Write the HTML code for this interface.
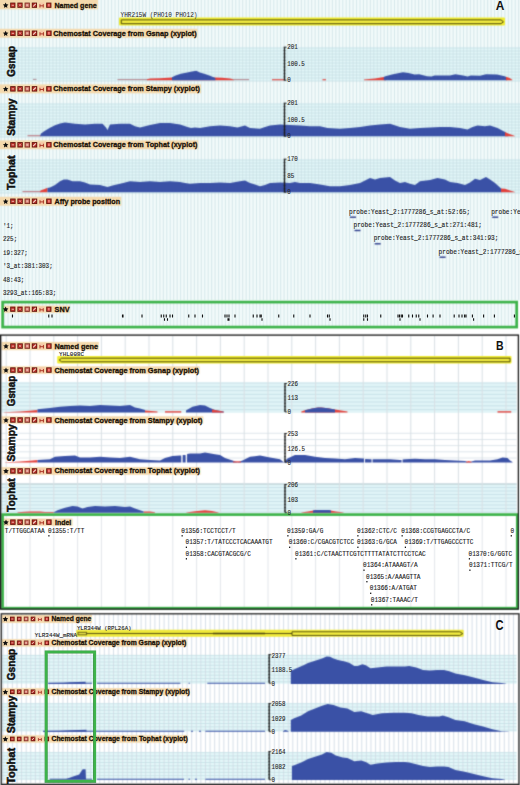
<!DOCTYPE html>
<html><head><meta charset="utf-8"><style>
html,body{margin:0;padding:0;background:#fff;width:520px;height:785px;overflow:hidden}
svg{display:block}

</style></head><body><svg xmlns="http://www.w3.org/2000/svg" width="520" height="785" viewBox="0 0 520 785"><defs><filter id="soft" x="0" y="0" width="520" height="785" filterUnits="userSpaceOnUse" color-interpolation-filters="sRGB"><feConvolveMatrix order="3" kernelMatrix="1 4 1 4 16 4 1 4 1" divisor="36" edgeMode="duplicate" preserveAlpha="true"/></filter></defs><g filter="url(#soft)"><rect width="520" height="785" fill="#fff"/><rect x="0" y="0" width="520" height="301" fill="#f3fbfb"/><rect x="0" y="47.50" width="520" height="33.50" fill="#e3f7f9"/><rect x="0" y="103.50" width="520" height="33.50" fill="#e3f7f9"/><rect x="0" y="159.50" width="520" height="33.50" fill="#e3f7f9"/><path d="M1.20 0.00V300.00M4.65 0.00V300.00M8.10 0.00V300.00M11.55 0.00V300.00M15.00 0.00V300.00M18.45 0.00V300.00M21.90 0.00V300.00M25.35 0.00V300.00M28.80 0.00V300.00M32.25 0.00V300.00M35.70 0.00V300.00M39.15 0.00V300.00M42.60 0.00V300.00M46.05 0.00V300.00M49.50 0.00V300.00M52.95 0.00V300.00M56.40 0.00V300.00M59.85 0.00V300.00M63.30 0.00V300.00M66.75 0.00V300.00M70.20 0.00V300.00M73.65 0.00V300.00M77.10 0.00V300.00M80.55 0.00V300.00M84.00 0.00V300.00M87.45 0.00V300.00M90.90 0.00V300.00M94.35 0.00V300.00M97.80 0.00V300.00M101.25 0.00V300.00M104.70 0.00V300.00M108.15 0.00V300.00M111.60 0.00V300.00M115.05 0.00V300.00M118.50 0.00V300.00M121.95 0.00V300.00M125.40 0.00V300.00M128.85 0.00V300.00M132.30 0.00V300.00M135.75 0.00V300.00M139.20 0.00V300.00M142.65 0.00V300.00M146.10 0.00V300.00M149.55 0.00V300.00M153.00 0.00V300.00M156.45 0.00V300.00M159.90 0.00V300.00M163.35 0.00V300.00M166.80 0.00V300.00M170.25 0.00V300.00M173.70 0.00V300.00M177.15 0.00V300.00M180.60 0.00V300.00M184.05 0.00V300.00M187.50 0.00V300.00M190.95 0.00V300.00M194.40 0.00V300.00M197.85 0.00V300.00M201.30 0.00V300.00M204.75 0.00V300.00M208.20 0.00V300.00M211.65 0.00V300.00M215.10 0.00V300.00M218.55 0.00V300.00M222.00 0.00V300.00M225.45 0.00V300.00M228.90 0.00V300.00M232.35 0.00V300.00M235.80 0.00V300.00M239.25 0.00V300.00M242.70 0.00V300.00M246.15 0.00V300.00M249.60 0.00V300.00M253.05 0.00V300.00M256.50 0.00V300.00M259.95 0.00V300.00M263.40 0.00V300.00M266.85 0.00V300.00M270.30 0.00V300.00M273.75 0.00V300.00M277.20 0.00V300.00M280.65 0.00V300.00M284.10 0.00V300.00M287.55 0.00V300.00M291.00 0.00V300.00M294.45 0.00V300.00M297.90 0.00V300.00M301.35 0.00V300.00M304.80 0.00V300.00M308.25 0.00V300.00M311.70 0.00V300.00M315.15 0.00V300.00M318.60 0.00V300.00M322.05 0.00V300.00M325.50 0.00V300.00M328.95 0.00V300.00M332.40 0.00V300.00M335.85 0.00V300.00M339.30 0.00V300.00M342.75 0.00V300.00M346.20 0.00V300.00M349.65 0.00V300.00M353.10 0.00V300.00M356.55 0.00V300.00M360.00 0.00V300.00M363.45 0.00V300.00M366.90 0.00V300.00M370.35 0.00V300.00M373.80 0.00V300.00M377.25 0.00V300.00M380.70 0.00V300.00M384.15 0.00V300.00M387.60 0.00V300.00M391.05 0.00V300.00M394.50 0.00V300.00M397.95 0.00V300.00M401.40 0.00V300.00M404.85 0.00V300.00M408.30 0.00V300.00M411.75 0.00V300.00M415.20 0.00V300.00M418.65 0.00V300.00M422.10 0.00V300.00M425.55 0.00V300.00M429.00 0.00V300.00M432.45 0.00V300.00M435.90 0.00V300.00M439.35 0.00V300.00M442.80 0.00V300.00M446.25 0.00V300.00M449.70 0.00V300.00M453.15 0.00V300.00M456.60 0.00V300.00M460.05 0.00V300.00M463.50 0.00V300.00M466.95 0.00V300.00M470.40 0.00V300.00M473.85 0.00V300.00M477.30 0.00V300.00M480.75 0.00V300.00M484.20 0.00V300.00M487.65 0.00V300.00M491.10 0.00V300.00M494.55 0.00V300.00M498.00 0.00V300.00M501.45 0.00V300.00M504.90 0.00V300.00M508.35 0.00V300.00M511.80 0.00V300.00M515.25 0.00V300.00M518.70 0.00V300.00" stroke="#cfe3e7" stroke-width="0.9" fill="none"/><path d="M0.00 48.00H520.00M0.00 51.00H520.00M0.00 54.00H520.00M0.00 57.00H520.00M0.00 60.00H520.00M0.00 63.00H520.00M0.00 66.00H520.00M0.00 69.00H520.00M0.00 72.00H520.00M0.00 75.00H520.00M0.00 78.00H520.00M0.00 81.00H520.00" stroke="#c4dee4" stroke-width="0.8" fill="none"/><path d="M0.00 104.00H520.00M0.00 107.00H520.00M0.00 110.00H520.00M0.00 113.00H520.00M0.00 116.00H520.00M0.00 119.00H520.00M0.00 122.00H520.00M0.00 125.00H520.00M0.00 128.00H520.00M0.00 131.00H520.00M0.00 134.00H520.00M0.00 137.00H520.00" stroke="#c4dee4" stroke-width="0.8" fill="none"/><path d="M0.00 160.00H520.00M0.00 163.00H520.00M0.00 166.00H520.00M0.00 169.00H520.00M0.00 172.00H520.00M0.00 175.00H520.00M0.00 178.00H520.00M0.00 181.00H520.00M0.00 184.00H520.00M0.00 187.00H520.00M0.00 190.00H520.00M0.00 193.00H520.00" stroke="#c4dee4" stroke-width="0.8" fill="none"/><rect x="0.00" y="0.00" width="98.00" height="9.30" fill="#f4d9ad"/><rect x="119" y="17.4" width="386" height="8.2" rx="1" fill="#f0ec30"/><path d="M121.3 19.9H501L503.4 21.8L501 23.7H121.3Z" fill="#f4ee40" stroke="#3c3808" stroke-width="0.9"/><rect x="0.00" y="28.80" width="197.50" height="8.90" fill="#f4d9ad"/><path d="M117.5 79.6H148" stroke="#b68a92" stroke-width="1.1"/><path d="M147.00 80.30L147.00 79.20L150.00 78.60L160.00 78.20L172.00 77.60L215.00 77.60L222.00 77.80L230.00 78.60L234.00 79.40L234.00 80.30Z" fill="#e2403b"/><path d="M172.00 80.30L172.00 79.60L172.00 77.20L175.60 75.50L180.80 73.80L186.00 72.70L192.00 71.50L196.30 70.70L199.80 72.40L205.00 74.10L210.00 75.80L215.40 77.90L215.40 79.60L215.40 80.30Z" fill="#3a51a6"/><path d="M233 79.6H249" stroke="#b68a92" stroke-width="1.1"/><path d="M33 79.4H36.5" stroke="#b08890" stroke-width="1"/><path d="M272.00 80.30L272.00 79.20L285.00 79.20L285.00 80.30Z" fill="#e2403b"/><path d="M322.50 80.30L322.50 79.20L326.00 79.20L326.00 80.30Z" fill="#e2403b"/><path d="M364.00 80.30L364.00 79.40L375.00 78.60L383.80 77.00L386.00 77.00L386.00 80.30Z" fill="#e2403b"/><path d="M383.80 80.30L383.80 77.00L385.40 76.20L393.00 74.20L403.00 72.30L408.50 73.00L414.60 74.60L419.20 74.20L427.00 76.20L431.50 76.60L434.60 75.40L440.00 75.40L450.00 75.40L455.40 74.20L463.00 75.40L467.70 76.60L470.80 75.40L480.00 75.80L486.00 74.20L497.00 74.60L504.60 76.20L507.00 77.20L507.00 80.30Z" fill="#3a51a6"/><path d="M506.00 80.30L506.00 76.80L509.00 77.70L512.30 79.70L512.30 80.30Z" fill="#e2403b"/><path d="M284.50 47.20V80.20" stroke="#1a1a1a" stroke-width="1.3"/><path d="M283.60 47.20H285.40M283.60 50.50H285.40M283.60 53.80H285.40M283.60 57.10H285.40M283.60 60.40H285.40M283.60 63.70H285.40M283.60 67.00H285.40M283.60 70.30H285.40M283.60 73.60H285.40M283.60 76.90H285.40M283.60 80.20H285.40" stroke="#1a1a1a" stroke-width="0.7"/><path d="M284.50 47.20H286.50M284.50 80.20H286.50" stroke="#1a1a1a" stroke-width="0.9"/><rect x="0.00" y="84.40" width="201.00" height="8.90" fill="#f4d9ad"/><path d="M27.5 135.7H41" stroke="#c0808a" stroke-width="1.2"/><path d="M40.00 136.30L40.00 136.20L41.00 133.50L45.00 130.80L50.00 127.80L55.00 125.20L60.00 123.60L65.00 122.60L75.00 123.75L85.00 124.50L95.00 123.75L102.50 123.75L106.00 127.50L107.50 130.00L110.00 124.50L120.00 123.75L130.00 123.75L135.00 126.25L140.00 127.50L150.00 125.00L160.00 123.00L170.00 123.00L180.00 124.50L187.50 127.00L191.00 128.00L195.00 127.50L200.00 128.00L210.00 126.25L220.00 125.50L230.00 126.25L237.50 127.50L245.00 125.50L250.00 128.00L260.00 128.75L265.00 127.00L270.00 125.50L280.00 124.50L290.00 125.00L300.00 125.50L310.00 126.25L320.00 126.25L327.50 128.00L340.00 128.75L350.00 128.00L360.00 127.00L370.00 125.50L380.00 124.50L390.00 123.75L400.00 127.00L410.00 128.75L420.00 128.00L430.00 127.50L440.00 127.00L450.00 127.00L460.00 128.00L467.50 129.50L472.50 127.00L477.50 125.50L485.00 126.25L490.00 125.50L497.50 128.00L505.00 132.00L508.00 134.00L508.00 136.30Z" fill="#3a51a6"/><path d="M505.00 136.30L505.00 132.00L508.00 133.50L515.00 136.00L515.00 136.30Z" fill="#e2403b"/><path d="M284.50 103.20V136.20" stroke="#1a1a1a" stroke-width="1.3"/><path d="M283.60 103.20H285.40M283.60 106.50H285.40M283.60 109.80H285.40M283.60 113.10H285.40M283.60 116.40H285.40M283.60 119.70H285.40M283.60 123.00H285.40M283.60 126.30H285.40M283.60 129.60H285.40M283.60 132.90H285.40M283.60 136.20H285.40" stroke="#1a1a1a" stroke-width="0.7"/><path d="M284.50 103.20H286.50M284.50 136.20H286.50" stroke="#1a1a1a" stroke-width="0.9"/><rect x="0.00" y="140.40" width="198.30" height="8.80" fill="#f4d9ad"/><path d="M22.5 191.6H41" stroke="#c0808a" stroke-width="1.2"/><path d="M40.00 192.30L40.00 192.20L40.50 190.50L44.00 189.20L47.50 187.80L47.50 192.30Z" fill="#e2403b"/><path d="M47.50 192.30L47.50 188.00L50.00 187.50L55.00 185.00L60.00 181.25L63.75 179.50L67.50 179.50L72.50 181.25L80.00 181.25L85.00 182.50L90.00 184.50L100.00 185.00L107.50 187.00L112.50 185.50L120.00 183.75L130.00 181.25L140.00 182.00L150.00 181.25L160.00 182.00L170.00 181.25L180.00 182.00L185.00 183.00L190.00 183.75L200.00 183.00L210.00 183.00L220.00 182.50L230.00 183.00L240.00 181.25L245.00 180.50L250.00 183.00L255.00 184.50L260.00 186.25L265.00 185.00L270.00 183.00L280.00 182.50L290.00 183.00L295.00 182.00L300.00 183.00L310.00 183.00L320.00 184.50L330.00 186.25L340.00 186.25L350.00 185.00L360.00 183.00L365.00 180.50L370.00 178.00L375.00 179.50L380.00 178.00L390.00 177.00L395.00 180.50L400.00 183.00L405.00 182.00L410.00 183.75L415.00 185.00L420.00 181.25L430.00 180.00L437.50 178.00L445.00 179.50L450.00 182.00L457.50 183.00L465.00 185.00L470.00 182.50L475.00 178.75L480.00 180.00L486.00 177.00L490.00 179.50L495.00 183.00L500.00 187.50L501.50 189.00L501.50 192.30Z" fill="#3a51a6"/><path d="M501.00 192.30L501.00 188.50L505.00 188.75L510.00 190.50L515.00 192.00L515.00 192.30Z" fill="#e2403b"/><path d="M284.50 159.20V192.20" stroke="#1a1a1a" stroke-width="1.3"/><path d="M283.60 159.20H285.40M283.60 162.50H285.40M283.60 165.80H285.40M283.60 169.10H285.40M283.60 172.40H285.40M283.60 175.70H285.40M283.60 179.00H285.40M283.60 182.30H285.40M283.60 185.60H285.40M283.60 188.90H285.40M283.60 192.20H285.40" stroke="#1a1a1a" stroke-width="0.7"/><path d="M284.50 159.20H286.50M284.50 192.20H286.50" stroke="#1a1a1a" stroke-width="0.9"/><rect x="0.00" y="196.80" width="121.30" height="8.90" fill="#f4d9ad"/><rect x="350.00" y="216.50" width="6" height="1.4" fill="#2a3a8a"/><rect x="354.50" y="229.80" width="6" height="1.4" fill="#2a3a8a"/><rect x="374.70" y="243.10" width="6" height="1.4" fill="#2a3a8a"/><rect x="439.60" y="256.50" width="6" height="1.4" fill="#2a3a8a"/><rect x="492.20" y="216.50" width="6" height="1.4" fill="#2a3a8a"/><rect x="2.5" y="302.1" width="514.1" height="25" fill="#fff"/><rect x="2.5" y="302.1" width="514.1" height="25" fill="#f3fbfb"/><path d="M4.65 302.00V326.00M8.10 302.00V326.00M11.55 302.00V326.00M15.00 302.00V326.00M18.45 302.00V326.00M21.90 302.00V326.00M25.35 302.00V326.00M28.80 302.00V326.00M32.25 302.00V326.00M35.70 302.00V326.00M39.15 302.00V326.00M42.60 302.00V326.00M46.05 302.00V326.00M49.50 302.00V326.00M52.95 302.00V326.00M56.40 302.00V326.00M59.85 302.00V326.00M63.30 302.00V326.00M66.75 302.00V326.00M70.20 302.00V326.00M73.65 302.00V326.00M77.10 302.00V326.00M80.55 302.00V326.00M84.00 302.00V326.00M87.45 302.00V326.00M90.90 302.00V326.00M94.35 302.00V326.00M97.80 302.00V326.00M101.25 302.00V326.00M104.70 302.00V326.00M108.15 302.00V326.00M111.60 302.00V326.00M115.05 302.00V326.00M118.50 302.00V326.00M121.95 302.00V326.00M125.40 302.00V326.00M128.85 302.00V326.00M132.30 302.00V326.00M135.75 302.00V326.00M139.20 302.00V326.00M142.65 302.00V326.00M146.10 302.00V326.00M149.55 302.00V326.00M153.00 302.00V326.00M156.45 302.00V326.00M159.90 302.00V326.00M163.35 302.00V326.00M166.80 302.00V326.00M170.25 302.00V326.00M173.70 302.00V326.00M177.15 302.00V326.00M180.60 302.00V326.00M184.05 302.00V326.00M187.50 302.00V326.00M190.95 302.00V326.00M194.40 302.00V326.00M197.85 302.00V326.00M201.30 302.00V326.00M204.75 302.00V326.00M208.20 302.00V326.00M211.65 302.00V326.00M215.10 302.00V326.00M218.55 302.00V326.00M222.00 302.00V326.00M225.45 302.00V326.00M228.90 302.00V326.00M232.35 302.00V326.00M235.80 302.00V326.00M239.25 302.00V326.00M242.70 302.00V326.00M246.15 302.00V326.00M249.60 302.00V326.00M253.05 302.00V326.00M256.50 302.00V326.00M259.95 302.00V326.00M263.40 302.00V326.00M266.85 302.00V326.00M270.30 302.00V326.00M273.75 302.00V326.00M277.20 302.00V326.00M280.65 302.00V326.00M284.10 302.00V326.00M287.55 302.00V326.00M291.00 302.00V326.00M294.45 302.00V326.00M297.90 302.00V326.00M301.35 302.00V326.00M304.80 302.00V326.00M308.25 302.00V326.00M311.70 302.00V326.00M315.15 302.00V326.00M318.60 302.00V326.00M322.05 302.00V326.00M325.50 302.00V326.00M328.95 302.00V326.00M332.40 302.00V326.00M335.85 302.00V326.00M339.30 302.00V326.00M342.75 302.00V326.00M346.20 302.00V326.00M349.65 302.00V326.00M353.10 302.00V326.00M356.55 302.00V326.00M360.00 302.00V326.00M363.45 302.00V326.00M366.90 302.00V326.00M370.35 302.00V326.00M373.80 302.00V326.00M377.25 302.00V326.00M380.70 302.00V326.00M384.15 302.00V326.00M387.60 302.00V326.00M391.05 302.00V326.00M394.50 302.00V326.00M397.95 302.00V326.00M401.40 302.00V326.00M404.85 302.00V326.00M408.30 302.00V326.00M411.75 302.00V326.00M415.20 302.00V326.00M418.65 302.00V326.00M422.10 302.00V326.00M425.55 302.00V326.00M429.00 302.00V326.00M432.45 302.00V326.00M435.90 302.00V326.00M439.35 302.00V326.00M442.80 302.00V326.00M446.25 302.00V326.00M449.70 302.00V326.00M453.15 302.00V326.00M456.60 302.00V326.00M460.05 302.00V326.00M463.50 302.00V326.00M466.95 302.00V326.00M470.40 302.00V326.00M473.85 302.00V326.00M477.30 302.00V326.00M480.75 302.00V326.00M484.20 302.00V326.00M487.65 302.00V326.00M491.10 302.00V326.00M494.55 302.00V326.00M498.00 302.00V326.00M501.45 302.00V326.00M504.90 302.00V326.00M508.35 302.00V326.00M511.80 302.00V326.00M515.25 302.00V326.00" stroke="#d2e5e8" stroke-width="0.9" fill="none"/><rect x="3.50" y="305.60" width="66.50" height="7.20" fill="#f4d9ad"/><rect x="2.6" y="302.1" width="514.1" height="25" fill="none" stroke="#3db34a" stroke-width="2.7"/><rect x="1.5" y="382.5" width="515" height="30.3" fill="#e0f4f7"/><path d="M1.50 383.00H516.50M1.50 386.80H516.50M1.50 390.60H516.50M1.50 394.40H516.50M1.50 398.20H516.50M1.50 402.00H516.50M1.50 405.80H516.50M1.50 409.60H516.50" stroke="#c3dde4" stroke-width="0.8" fill="none"/><path d="M1.50 433.30H516.50M1.50 439.50H516.50M1.50 445.60H516.50M1.50 451.80H516.50M1.50 458.00H516.50" stroke="#d6e0e6" stroke-width="0.8" fill="none"/><rect x="1.5" y="483.8" width="515" height="29" fill="#e0f4f7"/><path d="M1.50 484.00H516.50M1.50 487.50H516.50M1.50 491.00H516.50M1.50 494.50H516.50M1.50 498.00H516.50M1.50 501.50H516.50M1.50 505.00H516.50M1.50 508.50H516.50M1.50 512.00H516.50" stroke="#c3dde4" stroke-width="0.8" fill="none"/><path d="M1.5 484H516.5" stroke="#b8c8cc" stroke-width="0.8"/><path d="M6.20 336.00V513.00M30.00 336.00V513.00M53.80 336.00V513.00M77.60 336.00V513.00M101.40 336.00V513.00M125.20 336.00V513.00M149.00 336.00V513.00M172.80 336.00V513.00M196.60 336.00V513.00M220.40 336.00V513.00M244.20 336.00V513.00M268.00 336.00V513.00M291.80 336.00V513.00M315.60 336.00V513.00M339.40 336.00V513.00M363.20 336.00V513.00M387.00 336.00V513.00M410.80 336.00V513.00M434.60 336.00V513.00M458.40 336.00V513.00M482.20 336.00V513.00M506.00 336.00V513.00" stroke="#d8dfe4" stroke-width="1.0" fill="none"/><rect x="1.50" y="341.90" width="97.30" height="8.30" fill="#f4d9ad"/><rect x="57.2" y="356.1" width="454.3" height="7.4" rx="1" fill="#f0ec30"/><path d="M59.2 360.0L61.6 358.2H510V361.8H61.6Z" fill="#f4ee40" stroke="#3c3808" stroke-width="0.9"/><rect x="1.50" y="366.30" width="198.10" height="7.50" fill="#f4d9ad"/><path d="M3.75 412.60L3.75 412.20L20.00 411.60L30.00 410.80L37.50 410.00L37.50 412.60Z" fill="#e2403b"/><path d="M37.50 412.60L37.50 409.25L50.00 408.00L60.00 406.75L70.00 406.00L80.00 405.50L90.00 406.00L100.00 405.00L110.00 405.50L120.00 406.00L130.00 405.00L135.00 407.50L140.00 408.50L145.00 410.00L145.00 412.60Z" fill="#3a51a6"/><path d="M145.00 412.60L145.00 410.50L157.50 411.50L157.50 412.60Z" fill="#e2403b"/><path d="M165.00 412.60L165.00 411.20L181.25 411.20L181.25 412.60Z" fill="#e2403b"/><path d="M186.00 412.60L186.00 410.50L188.00 409.25L192.50 406.75L200.00 405.00L205.00 405.50L210.00 408.00L215.00 410.00L223.75 411.50L223.75 412.60Z" fill="#3a51a6"/><path d="M212.00 412.60L212.00 409.50L215.00 410.00L223.75 411.70L223.75 412.60Z" fill="#e2403b"/><path d="M301.25 412.60L301.25 411.60L305.00 410.20L312.00 408.60L318.00 407.60L321.25 407.40L328.00 408.20L335.00 409.60L341.00 410.60L347.50 411.60L347.50 412.60Z" fill="#e2403b"/><path d="M305.00 412.60L305.00 410.20L312.00 408.60L318.00 407.60L321.25 407.40L328.00 408.20L335.00 409.60L335.00 412.60Z" fill="#3a51a6"/><path d="M497.50 412.60L497.50 411.20L511.25 411.20L511.25 412.60Z" fill="#e2403b"/><path d="M285.00 383.50V411.90" stroke="#1a1a1a" stroke-width="1.3"/><path d="M284.10 383.50H285.90M284.10 386.80H285.90M284.10 390.10H285.90M284.10 393.40H285.90M284.10 396.70H285.90M284.10 400.00H285.90M284.10 403.30H285.90M284.10 406.60H285.90M284.10 409.90H285.90" stroke="#1a1a1a" stroke-width="0.7"/><path d="M285.00 383.50H287.00M285.00 411.90H287.00" stroke="#1a1a1a" stroke-width="0.9"/><rect x="1.50" y="416.30" width="201.80" height="7.40" fill="#f4d9ad"/><path d="M5.00 462.60L5.00 462.20L20.00 461.60L30.00 460.80L37.50 460.00L37.50 462.60Z" fill="#e2403b"/><path d="M37.50 462.60L37.50 460.00L50.00 459.25L55.00 456.75L65.00 456.00L75.00 455.50L80.00 457.50L90.00 457.50L100.00 456.75L110.00 457.50L120.00 458.00L130.00 456.75L140.00 459.25L150.00 460.00L160.00 460.50L165.00 458.00L172.50 456.00L180.00 455.50L181.20 455.50L181.30 462.60L182.60 462.60L182.70 455.00L185.60 455.00L185.70 462.60L187.00 462.60L187.10 454.00L190.00 453.50L200.00 453.50L205.00 452.50L215.00 454.25L220.00 455.00L225.00 458.00L232.50 460.50L237.50 462.30L242.50 460.50L250.00 456.75L260.00 455.50L270.00 457.50L280.00 459.25L283.75 462.30L287.50 458.50L295.00 455.00L305.00 455.00L315.00 456.75L325.00 458.00L335.00 458.50L345.00 459.25L355.00 458.00L362.50 458.50L364.00 458.50L364.10 462.60L365.00 462.60L365.10 459.00L370.00 459.25L371.50 459.25L371.60 462.60L372.50 462.60L372.60 459.25L380.00 459.25L390.00 459.25L400.00 460.00L401.50 460.00L401.60 462.60L402.50 462.60L402.60 459.50L405.00 459.25L415.00 458.75L425.00 459.25L435.00 459.25L445.00 460.00L455.00 460.50L465.00 461.00L468.75 462.30L475.00 460.50L490.00 460.50L497.50 459.25L502.50 457.50L507.50 458.00L510.00 460.50L512.50 462.00L512.50 462.60Z" fill="#3a51a6"/><path d="M233.00 462.60L233.00 461.50L237.50 461.20L241.00 461.50L241.00 462.60Z" fill="#e2403b"/><path d="M466.00 462.60L466.00 461.80L468.75 461.00L471.50 461.80L471.50 462.60Z" fill="#e2403b"/><path d="M285.00 433.50V462.30" stroke="#1a1a1a" stroke-width="1.3"/><path d="M284.10 433.50H285.90M284.10 436.80H285.90M284.10 440.10H285.90M284.10 443.40H285.90M284.10 446.70H285.90M284.10 450.00H285.90M284.10 453.30H285.90M284.10 456.60H285.90M284.10 459.90H285.90" stroke="#1a1a1a" stroke-width="0.7"/><path d="M285.00 433.50H287.00M285.00 462.30H287.00" stroke="#1a1a1a" stroke-width="0.9"/><rect x="1.50" y="467.10" width="199.00" height="7.70" fill="#f4d9ad"/><path d="M17.50 512.80L17.50 512.30L25.00 511.80L30.00 511.40L40.00 511.60L45.00 512.10L53.75 512.10L53.75 512.80Z" fill="#e2403b"/><path d="M53.75 512.80L53.75 512.20L57.50 510.25L65.00 507.75L72.50 506.00L77.50 506.50L82.50 508.50L87.50 507.00L95.00 506.00L105.00 506.50L115.00 506.00L125.00 507.00L130.00 506.50L135.00 508.50L140.00 510.25L143.75 511.50L143.75 512.80Z" fill="#3a51a6"/><path d="M143.75 512.80L143.75 511.50L150.00 511.40L155.00 512.20L155.00 512.80Z" fill="#e2403b"/><path d="M186.25 512.80L186.25 512.40L195.00 511.20L205.00 510.25L212.00 511.00L218.75 512.40L218.75 512.80Z" fill="#e2403b"/><path d="M301.30 512.80L301.30 512.60L308.00 511.40L315.00 510.20L329.00 510.20L336.00 511.40L343.70 512.60L343.70 512.80Z" fill="#e2403b"/><path d="M313.00 512.80L313.00 510.50L315.00 510.00L329.00 510.00L331.00 510.50L331.00 512.80Z" fill="#3a51a6"/><path d="M285.00 484.50V512.60" stroke="#1a1a1a" stroke-width="1.3"/><path d="M284.10 484.50H285.90M284.10 487.80H285.90M284.10 491.10H285.90M284.10 494.40H285.90M284.10 497.70H285.90M284.10 501.00H285.90M284.10 504.30H285.90M284.10 507.60H285.90M284.10 510.90H285.90" stroke="#1a1a1a" stroke-width="0.7"/><path d="M285.00 484.50H287.00M285.00 512.60H287.00" stroke="#1a1a1a" stroke-width="0.9"/><rect x="2.6" y="514.6" width="514.7" height="93.6" fill="#fff"/><path d="M6.20 515.00V608.00M30.00 515.00V608.00M53.80 515.00V608.00M77.60 515.00V608.00M101.40 515.00V608.00M125.20 515.00V608.00M149.00 515.00V608.00M172.80 515.00V608.00M196.60 515.00V608.00M220.40 515.00V608.00M244.20 515.00V608.00M268.00 515.00V608.00M291.80 515.00V608.00M315.60 515.00V608.00M339.40 515.00V608.00M363.20 515.00V608.00M387.00 515.00V608.00M410.80 515.00V608.00M434.60 515.00V608.00M458.40 515.00V608.00M482.20 515.00V608.00M506.00 515.00V608.00" stroke="#e2e6ea" stroke-width="1.0" fill="none"/><rect x="3.80" y="518.50" width="68.70" height="7.30" fill="#f4d9ad"/><rect x="2.6" y="514.6" width="514.7" height="93.6" fill="none" stroke="#3db34a" stroke-width="2.7"/><rect x="0.7" y="335.1" width="517.7" height="274.0" fill="none" stroke="#151515" stroke-width="1.3"/><rect x="2" y="655.00" width="514.5" height="28.80" fill="#e3f7f9"/><rect x="2" y="703.30" width="514.5" height="28.30" fill="#e3f7f9"/><rect x="2" y="752.20" width="514.5" height="27.60" fill="#e3f7f9"/><path d="M3.20 614.00V783.00M7.80 614.00V783.00M12.39 614.00V783.00M16.99 614.00V783.00M21.59 614.00V783.00M26.19 614.00V783.00M30.78 614.00V783.00M35.38 614.00V783.00M39.98 614.00V783.00M44.57 614.00V783.00M49.17 614.00V783.00M53.77 614.00V783.00M58.36 614.00V783.00M62.96 614.00V783.00M67.56 614.00V783.00M72.16 614.00V783.00M76.75 614.00V783.00M81.35 614.00V783.00M85.95 614.00V783.00M90.54 614.00V783.00M95.14 614.00V783.00M99.74 614.00V783.00M104.33 614.00V783.00M108.93 614.00V783.00M113.53 614.00V783.00M118.12 614.00V783.00M122.72 614.00V783.00M127.32 614.00V783.00M131.92 614.00V783.00M136.51 614.00V783.00M141.11 614.00V783.00M145.71 614.00V783.00M150.30 614.00V783.00M154.90 614.00V783.00M159.50 614.00V783.00M164.09 614.00V783.00M168.69 614.00V783.00M173.29 614.00V783.00M177.89 614.00V783.00M182.48 614.00V783.00M187.08 614.00V783.00M191.68 614.00V783.00M196.27 614.00V783.00M200.87 614.00V783.00M205.47 614.00V783.00M210.07 614.00V783.00M214.66 614.00V783.00M219.26 614.00V783.00M223.86 614.00V783.00M228.45 614.00V783.00M233.05 614.00V783.00M237.65 614.00V783.00M242.24 614.00V783.00M246.84 614.00V783.00M251.44 614.00V783.00M256.04 614.00V783.00M260.63 614.00V783.00M265.23 614.00V783.00M269.83 614.00V783.00M274.42 614.00V783.00M279.02 614.00V783.00M283.62 614.00V783.00M288.21 614.00V783.00M292.81 614.00V783.00M297.41 614.00V783.00M302.00 614.00V783.00M306.60 614.00V783.00M311.20 614.00V783.00M315.80 614.00V783.00M320.39 614.00V783.00M324.99 614.00V783.00M329.59 614.00V783.00M334.18 614.00V783.00M338.78 614.00V783.00M343.38 614.00V783.00M347.97 614.00V783.00M352.57 614.00V783.00M357.17 614.00V783.00M361.77 614.00V783.00M366.36 614.00V783.00M370.96 614.00V783.00M375.56 614.00V783.00M380.15 614.00V783.00M384.75 614.00V783.00M389.35 614.00V783.00M393.94 614.00V783.00M398.54 614.00V783.00M403.14 614.00V783.00M407.74 614.00V783.00M412.33 614.00V783.00M416.93 614.00V783.00M421.53 614.00V783.00M426.12 614.00V783.00M430.72 614.00V783.00M435.32 614.00V783.00M439.91 614.00V783.00M444.51 614.00V783.00M449.11 614.00V783.00M453.71 614.00V783.00M458.30 614.00V783.00M462.90 614.00V783.00M467.50 614.00V783.00M472.09 614.00V783.00M476.69 614.00V783.00M481.29 614.00V783.00M485.88 614.00V783.00M490.48 614.00V783.00M495.08 614.00V783.00M499.68 614.00V783.00M504.27 614.00V783.00M508.87 614.00V783.00M513.47 614.00V783.00" stroke="#d6dfe8" stroke-width="1.0" fill="none"/><path d="M2.00 655.40H516.50M2.00 658.70H516.50M2.00 662.00H516.50M2.00 665.30H516.50M2.00 668.60H516.50M2.00 671.90H516.50M2.00 675.20H516.50M2.00 678.50H516.50M2.00 681.80H516.50" stroke="#c4dee4" stroke-width="0.8" fill="none"/><path d="M2.00 703.70H516.50M2.00 707.00H516.50M2.00 710.30H516.50M2.00 713.60H516.50M2.00 716.90H516.50M2.00 720.20H516.50M2.00 723.50H516.50M2.00 726.80H516.50M2.00 730.10H516.50" stroke="#c4dee4" stroke-width="0.8" fill="none"/><path d="M2.00 752.60H516.50M2.00 755.90H516.50M2.00 759.20H516.50M2.00 762.50H516.50M2.00 765.80H516.50M2.00 769.10H516.50M2.00 772.40H516.50M2.00 775.70H516.50M2.00 779.00H516.50" stroke="#c4dee4" stroke-width="0.8" fill="none"/><rect x="2.00" y="614.90" width="90.00" height="8.10" fill="#f4d9ad"/><rect x="76.2" y="629.8" width="387.5" height="7.0" rx="1" fill="#eee838"/><path d="M86.4 633.5H292" stroke="#4a4410" stroke-width="0.9"/><path d="M213 633.5H265" stroke="#4a4410" stroke-width="1.5"/><path d="M292 631.8H459.8L462.8 633.6L459.8 635.4H292Z" fill="#f4ee40" stroke="#3c3808" stroke-width="0.85"/><rect x="78" y="632.3" width="8.4" height="2.5" fill="#f4ee50" stroke="#4a4410" stroke-width="0.8"/><rect x="2.00" y="639.10" width="185.00" height="7.50" fill="#f4d9ad"/><path d="M48 683.3H92M97 683.3H180.4M188.6 683.3H189.8M207.3 683.3H265" stroke="#3a51a6" stroke-width="1.1"/><path d="M48.00 683.90L48.00 683.00L63.50 682.80L70.00 682.20L85.60 681.80L85.60 683.90Z" fill="#3a51a6"/><path d="M290.80 683.90L290.80 683.90L290.80 671.10L296.50 668.30L303.50 665.30L308.00 663.00L315.00 660.70L322.00 658.40L326.60 656.50L330.00 656.80L333.50 658.40L338.00 660.00L345.00 661.40L349.60 663.00L354.30 666.00L357.70 666.00L362.40 664.20L365.80 665.30L370.50 668.30L377.40 667.60L386.60 666.50L395.90 666.50L405.00 666.50L409.20 666.00L416.20 667.60L423.00 670.00L430.00 670.60L437.00 670.00L443.90 670.00L448.50 671.00L455.40 673.40L464.70 675.20L473.90 677.60L483.10 679.90L492.30 682.20L501.60 683.10L506.20 683.80L506.20 683.90Z" fill="#3a51a6"/><path d="M269.20 654.60V683.20" stroke="#1a1a1a" stroke-width="1.3"/><path d="M268.30 654.60H270.10M268.30 657.90H270.10M268.30 661.20H270.10M268.30 664.50H270.10M268.30 667.80H270.10M268.30 671.10H270.10M268.30 674.40H270.10M268.30 677.70H270.10M268.30 681.00H270.10" stroke="#1a1a1a" stroke-width="0.7"/><path d="M269.20 654.60H271.20M269.20 683.20H271.20" stroke="#1a1a1a" stroke-width="0.9"/><rect x="2.00" y="688.10" width="188.00" height="7.30" fill="#f4d9ad"/><path d="M43 731.2H100M100 731.2H184.2M191 731.2H193M199 731.2H201M205.4 731.2H265" stroke="#3a51a6" stroke-width="1.1"/><path d="M43.00 731.70L43.00 731.00L60.00 730.80L70.00 730.20L86.50 729.80L86.50 731.70Z" fill="#3a51a6"/><path d="M283.00 731.70L283.00 731.30L285.00 730.00L287.00 730.60L288.50 731.30L288.50 731.70Z" fill="#3a51a6"/><path d="M290.80 731.70L290.80 731.70L290.80 720.10L294.20 718.20L301.20 715.50L308.00 711.30L315.00 708.50L322.00 705.80L327.70 703.90L333.50 705.10L340.40 707.40L347.40 708.50L354.30 712.00L361.20 711.30L365.80 712.70L372.70 715.00L382.00 713.20L393.50 712.70L405.00 712.70L411.50 713.20L418.50 715.00L427.70 716.60L439.30 716.60L442.70 715.50L448.50 717.30L455.40 720.10L464.70 721.20L473.90 724.20L483.10 726.60L492.30 729.30L501.60 731.20L508.50 731.60L508.50 731.70Z" fill="#3a51a6"/><path d="M269.20 703.50V731.60" stroke="#1a1a1a" stroke-width="1.3"/><path d="M268.30 703.50H270.10M268.30 706.80H270.10M268.30 710.10H270.10M268.30 713.40H270.10M268.30 716.70H270.10M268.30 720.00H270.10M268.30 723.30H270.10M268.30 726.60H270.10M268.30 729.90H270.10" stroke="#1a1a1a" stroke-width="0.7"/><path d="M269.20 703.50H271.20M269.20 731.60H271.20" stroke="#1a1a1a" stroke-width="0.9"/><rect x="2.00" y="735.20" width="186.00" height="7.50" fill="#f4d9ad"/><path d="M49.8 779.3H92M97 779.3H184M188.5 779.3H190M195 779.3H197M205.4 779.3H265" stroke="#3a51a6" stroke-width="1.1"/><path d="M49.80 779.90L49.80 779.40L65.40 779.20L74.60 776.10L79.20 774.40L81.50 771.00L82.70 769.20L85.60 769.20L86.00 779.50L86.00 779.90Z" fill="#3a51a6"/><path d="M291.90 779.90L291.90 779.90L291.90 765.90L294.20 765.20L301.20 762.50L308.00 759.00L315.00 756.70L322.00 754.40L326.60 752.10L331.20 752.80L335.80 755.50L342.70 757.40L347.40 757.90L354.30 761.30L361.20 760.60L365.80 762.00L370.50 764.80L377.40 763.60L386.60 762.50L395.90 762.00L405.00 762.00L409.20 762.50L416.20 764.30L423.00 765.90L430.00 767.10L437.00 766.60L443.90 766.60L448.50 767.10L455.40 769.90L464.70 771.70L473.90 774.00L483.10 776.30L492.30 778.20L501.60 779.10L505.00 779.80L505.00 779.90Z" fill="#3a51a6"/><path d="M269.20 751.50V779.70" stroke="#1a1a1a" stroke-width="1.3"/><path d="M268.30 751.50H270.10M268.30 754.80H270.10M268.30 758.10H270.10M268.30 761.40H270.10M268.30 764.70H270.10M268.30 768.00H270.10M268.30 771.30H270.10M268.30 774.60H270.10M268.30 777.90H270.10" stroke="#1a1a1a" stroke-width="0.7"/><path d="M269.20 751.50H271.20M269.20 779.70H271.20" stroke="#1a1a1a" stroke-width="0.9"/><rect x="1.3" y="613.8" width="517.6" height="170.5" fill="none" stroke="#222" stroke-width="1.3"/></g><polygon points="5.65,2.60 6.50,4.33 8.41,4.60 7.03,5.95 7.35,7.85 5.65,6.95 3.95,7.85 4.27,5.95 2.89,4.60 4.80,4.33" fill="#111"/><rect x="10.20" y="2.60" width="5.20" height="5.20" fill="#5c120c"/><rect x="10.93" y="3.33" width="3.74" height="3.74" fill="#b22c24"/><rect x="11.66" y="4.78" width="2.29" height="0.94" fill="#f5b8b0"/><rect x="17.40" y="2.60" width="5.20" height="5.20" fill="#5c120c"/><rect x="18.13" y="3.33" width="3.74" height="3.74" fill="#b22c24"/><path d="M18.96 4.16L21.04 6.24M21.04 4.16L18.96 6.24" stroke="#eea0a0" stroke-width="0.78"/><rect x="24.60" y="2.60" width="5.20" height="5.20" fill="#74261e"/><rect x="25.33" y="3.33" width="3.74" height="3.74" fill="#c86a5e"/><rect x="26.16" y="4.16" width="2.08" height="2.08" fill="#eab0a4"/><rect x="31.80" y="2.60" width="5.20" height="5.20" fill="#5c120c"/><rect x="32.53" y="3.33" width="3.74" height="3.74" fill="#b22c24"/><path d="M33.10 6.50L35.70 3.90" stroke="#f8e0d8" stroke-width="1.04"/><rect x="39.00" y="2.60" width="5.20" height="5.20" fill="#f7c9a8"/><path d="M39.94 4.16V7.54M43.26 4.16V7.54M39.94 5.82H43.26" stroke="#a83020" stroke-width="0.88" fill="none"/><rect x="46.20" y="2.60" width="5.20" height="5.20" fill="#5c120c"/><rect x="46.93" y="3.33" width="3.74" height="3.74" fill="#b22c24"/><rect x="47.86" y="3.90" width="1.87" height="2.60" fill="#ee7a74"/><text x="54.40" y="8.10" font-family="Liberation Sans" font-weight="bold" font-size="8.00" textLength="42.30" lengthAdjust="spacingAndGlyphs" fill="#1a1208" stroke="#1a1208" stroke-width="0.32">Named gene</text><text x="120.50" y="16.90" font-family="Liberation Mono" font-size="6.80" textLength="77.00" lengthAdjust="spacingAndGlyphs" fill="#202020" stroke="#202020" stroke-width="0.00">YHR215W (PHO10 PHO12)</text><text x="495.8" y="9.7" font-family="Liberation Sans" font-weight="bold" font-size="13.4" textLength="8.6" lengthAdjust="spacingAndGlyphs" fill="#111">A</text><polygon points="5.65,30.65 6.50,32.38 8.41,32.65 7.03,34.00 7.35,35.90 5.65,35.00 3.95,35.90 4.27,34.00 2.89,32.65 4.80,32.38" fill="#111"/><rect x="10.20" y="30.55" width="5.40" height="5.40" fill="#5c120c"/><rect x="10.96" y="31.31" width="3.89" height="3.89" fill="#b22c24"/><rect x="11.71" y="32.82" width="2.38" height="0.97" fill="#f5b8b0"/><rect x="17.40" y="30.55" width="5.40" height="5.40" fill="#5c120c"/><rect x="18.16" y="31.31" width="3.89" height="3.89" fill="#b22c24"/><path d="M19.02 32.17L21.18 34.33M21.18 32.17L19.02 34.33" stroke="#eea0a0" stroke-width="0.81"/><rect x="24.60" y="30.55" width="5.40" height="5.40" fill="#74261e"/><rect x="25.36" y="31.31" width="3.89" height="3.89" fill="#c86a5e"/><rect x="26.22" y="32.17" width="2.16" height="2.16" fill="#eab0a4"/><rect x="31.80" y="30.55" width="5.40" height="5.40" fill="#5c120c"/><rect x="32.56" y="31.31" width="3.89" height="3.89" fill="#b22c24"/><path d="M33.15 34.60L35.85 31.90" stroke="#f8e0d8" stroke-width="1.08"/><rect x="39.00" y="30.55" width="5.40" height="5.40" fill="#f7c9a8"/><path d="M39.97 32.17V35.68M43.43 32.17V35.68M39.97 33.90H43.43" stroke="#a83020" stroke-width="0.92" fill="none"/><rect x="46.20" y="30.55" width="5.40" height="5.40" fill="#5c120c"/><rect x="46.96" y="31.31" width="3.89" height="3.89" fill="#b22c24"/><rect x="47.93" y="31.90" width="1.94" height="2.70" fill="#ee7a74"/><text x="53.30" y="35.81" font-family="Liberation Sans" font-weight="bold" font-size="8.00" textLength="143.40" lengthAdjust="spacingAndGlyphs" fill="#1a1208" stroke="#1a1208" stroke-width="0.32">Chemostat Coverage from Gsnap (xyplot)</text><text x="287.20" y="49.11" font-family="Liberation Mono" font-size="6.60" textLength="10.50" lengthAdjust="spacingAndGlyphs" fill="#262626" stroke="#262626" stroke-width="0.12">201</text><text x="287.20" y="66.11" font-family="Liberation Mono" font-size="6.60" textLength="17.50" lengthAdjust="spacingAndGlyphs" fill="#262626" stroke="#262626" stroke-width="0.12">100.5</text><text x="287.20" y="82.21" font-family="Liberation Mono" font-size="6.60" textLength="3.50" lengthAdjust="spacingAndGlyphs" fill="#262626" stroke="#262626" stroke-width="0.12">0</text><text transform="translate(15.30 76.80) rotate(-90)" font-family="Liberation Sans" font-weight="bold" font-size="11.40" textLength="30.90" lengthAdjust="spacingAndGlyphs" fill="#111" stroke="#111" stroke-width="0.5">Gsnap</text><polygon points="5.65,86.25 6.50,87.98 8.41,88.25 7.03,89.60 7.35,91.50 5.65,90.60 3.95,91.50 4.27,89.60 2.89,88.25 4.80,87.98" fill="#111"/><rect x="10.20" y="86.15" width="5.40" height="5.40" fill="#5c120c"/><rect x="10.96" y="86.91" width="3.89" height="3.89" fill="#b22c24"/><rect x="11.71" y="88.42" width="2.38" height="0.97" fill="#f5b8b0"/><rect x="17.40" y="86.15" width="5.40" height="5.40" fill="#5c120c"/><rect x="18.16" y="86.91" width="3.89" height="3.89" fill="#b22c24"/><path d="M19.02 87.77L21.18 89.93M21.18 87.77L19.02 89.93" stroke="#eea0a0" stroke-width="0.81"/><rect x="24.60" y="86.15" width="5.40" height="5.40" fill="#74261e"/><rect x="25.36" y="86.91" width="3.89" height="3.89" fill="#c86a5e"/><rect x="26.22" y="87.77" width="2.16" height="2.16" fill="#eab0a4"/><rect x="31.80" y="86.15" width="5.40" height="5.40" fill="#5c120c"/><rect x="32.56" y="86.91" width="3.89" height="3.89" fill="#b22c24"/><path d="M33.15 90.20L35.85 87.50" stroke="#f8e0d8" stroke-width="1.08"/><rect x="39.00" y="86.15" width="5.40" height="5.40" fill="#f7c9a8"/><path d="M39.97 87.77V91.28M43.43 87.77V91.28M39.97 89.50H43.43" stroke="#a83020" stroke-width="0.92" fill="none"/><rect x="46.20" y="86.15" width="5.40" height="5.40" fill="#5c120c"/><rect x="46.96" y="86.91" width="3.89" height="3.89" fill="#b22c24"/><rect x="47.93" y="87.50" width="1.94" height="2.70" fill="#ee7a74"/><text x="53.30" y="91.41" font-family="Liberation Sans" font-weight="bold" font-size="8.00" textLength="146.70" lengthAdjust="spacingAndGlyphs" fill="#1a1208" stroke="#1a1208" stroke-width="0.32">Chemostat Coverage from Stampy (xyplot)</text><text x="287.20" y="105.31" font-family="Liberation Mono" font-size="6.60" textLength="10.50" lengthAdjust="spacingAndGlyphs" fill="#262626" stroke="#262626" stroke-width="0.12">201</text><text x="287.20" y="122.31" font-family="Liberation Mono" font-size="6.60" textLength="17.50" lengthAdjust="spacingAndGlyphs" fill="#262626" stroke="#262626" stroke-width="0.12">100.5</text><text x="287.20" y="138.21" font-family="Liberation Mono" font-size="6.60" textLength="3.50" lengthAdjust="spacingAndGlyphs" fill="#262626" stroke="#262626" stroke-width="0.12">0</text><text transform="translate(15.30 135.80) rotate(-90)" font-family="Liberation Sans" font-weight="bold" font-size="11.40" textLength="37.40" lengthAdjust="spacingAndGlyphs" fill="#111" stroke="#111" stroke-width="0.5">Stampy</text><polygon points="5.65,142.20 6.50,143.93 8.41,144.20 7.03,145.55 7.35,147.45 5.65,146.55 3.95,147.45 4.27,145.55 2.89,144.20 4.80,143.93" fill="#111"/><rect x="10.20" y="142.10" width="5.40" height="5.40" fill="#5c120c"/><rect x="10.96" y="142.86" width="3.89" height="3.89" fill="#b22c24"/><rect x="11.71" y="144.37" width="2.38" height="0.97" fill="#f5b8b0"/><rect x="17.40" y="142.10" width="5.40" height="5.40" fill="#5c120c"/><rect x="18.16" y="142.86" width="3.89" height="3.89" fill="#b22c24"/><path d="M19.02 143.72L21.18 145.88M21.18 143.72L19.02 145.88" stroke="#eea0a0" stroke-width="0.81"/><rect x="24.60" y="142.10" width="5.40" height="5.40" fill="#74261e"/><rect x="25.36" y="142.86" width="3.89" height="3.89" fill="#c86a5e"/><rect x="26.22" y="143.72" width="2.16" height="2.16" fill="#eab0a4"/><rect x="31.80" y="142.10" width="5.40" height="5.40" fill="#5c120c"/><rect x="32.56" y="142.86" width="3.89" height="3.89" fill="#b22c24"/><path d="M33.15 146.15L35.85 143.45" stroke="#f8e0d8" stroke-width="1.08"/><rect x="39.00" y="142.10" width="5.40" height="5.40" fill="#f7c9a8"/><path d="M39.97 143.72V147.23M43.43 143.72V147.23M39.97 145.45H43.43" stroke="#a83020" stroke-width="0.92" fill="none"/><rect x="46.20" y="142.10" width="5.40" height="5.40" fill="#5c120c"/><rect x="46.96" y="142.86" width="3.89" height="3.89" fill="#b22c24"/><rect x="47.93" y="143.45" width="1.94" height="2.70" fill="#ee7a74"/><text x="53.30" y="147.36" font-family="Liberation Sans" font-weight="bold" font-size="8.00" textLength="144.20" lengthAdjust="spacingAndGlyphs" fill="#1a1208" stroke="#1a1208" stroke-width="0.32">Chemostat Coverage from Tophat (xyplot)</text><text x="287.20" y="161.31" font-family="Liberation Mono" font-size="6.60" textLength="10.50" lengthAdjust="spacingAndGlyphs" fill="#262626" stroke="#262626" stroke-width="0.12">170</text><text x="287.20" y="178.31" font-family="Liberation Mono" font-size="6.60" textLength="7.00" lengthAdjust="spacingAndGlyphs" fill="#262626" stroke="#262626" stroke-width="0.12">85</text><text x="287.20" y="194.21" font-family="Liberation Mono" font-size="6.60" textLength="3.50" lengthAdjust="spacingAndGlyphs" fill="#262626" stroke="#262626" stroke-width="0.12">0</text><text transform="translate(15.00 190.10) rotate(-90)" font-family="Liberation Sans" font-weight="bold" font-size="11.40" textLength="34.70" lengthAdjust="spacingAndGlyphs" fill="#111" stroke="#111" stroke-width="0.5">Tophat</text><polygon points="5.65,198.65 6.50,200.38 8.41,200.65 7.03,202.00 7.35,203.90 5.65,203.00 3.95,203.90 4.27,202.00 2.89,200.65 4.80,200.38" fill="#111"/><rect x="10.20" y="198.55" width="5.40" height="5.40" fill="#5c120c"/><rect x="10.96" y="199.31" width="3.89" height="3.89" fill="#b22c24"/><rect x="11.71" y="200.82" width="2.38" height="0.97" fill="#f5b8b0"/><rect x="17.40" y="198.55" width="5.40" height="5.40" fill="#5c120c"/><rect x="18.16" y="199.31" width="3.89" height="3.89" fill="#b22c24"/><path d="M19.02 200.17L21.18 202.33M21.18 200.17L19.02 202.33" stroke="#eea0a0" stroke-width="0.81"/><rect x="24.60" y="198.55" width="5.40" height="5.40" fill="#74261e"/><rect x="25.36" y="199.31" width="3.89" height="3.89" fill="#c86a5e"/><rect x="26.22" y="200.17" width="2.16" height="2.16" fill="#eab0a4"/><rect x="31.80" y="198.55" width="5.40" height="5.40" fill="#5c120c"/><rect x="32.56" y="199.31" width="3.89" height="3.89" fill="#b22c24"/><path d="M33.15 202.60L35.85 199.90" stroke="#f8e0d8" stroke-width="1.08"/><rect x="39.00" y="198.55" width="5.40" height="5.40" fill="#f7c9a8"/><path d="M39.97 200.17V203.68M43.43 200.17V203.68M39.97 201.90H43.43" stroke="#a83020" stroke-width="0.92" fill="none"/><rect x="46.20" y="198.55" width="5.40" height="5.40" fill="#5c120c"/><rect x="46.96" y="199.31" width="3.89" height="3.89" fill="#b22c24"/><rect x="47.93" y="199.90" width="1.94" height="2.70" fill="#ee7a74"/><text x="54.50" y="203.81" font-family="Liberation Sans" font-weight="bold" font-size="8.00" textLength="65.50" lengthAdjust="spacingAndGlyphs" fill="#1a1208" stroke="#1a1208" stroke-width="0.32">Affy probe position</text><text x="3.00" y="227.70" font-family="Liberation Mono" font-size="7.00" textLength="10.65" lengthAdjust="spacingAndGlyphs" fill="#202020" stroke="#202020" stroke-width="0.12">'1;</text><text x="3.00" y="241.20" font-family="Liberation Mono" font-size="7.00" textLength="14.20" lengthAdjust="spacingAndGlyphs" fill="#202020" stroke="#202020" stroke-width="0.12">225;</text><text x="3.00" y="254.70" font-family="Liberation Mono" font-size="7.00" textLength="24.85" lengthAdjust="spacingAndGlyphs" fill="#202020" stroke="#202020" stroke-width="0.12">i9:327;</text><text x="3.00" y="268.10" font-family="Liberation Mono" font-size="7.00" textLength="49.70" lengthAdjust="spacingAndGlyphs" fill="#202020" stroke="#202020" stroke-width="0.12">'3_at:381:303;</text><text x="3.00" y="281.60" font-family="Liberation Mono" font-size="7.00" textLength="21.30" lengthAdjust="spacingAndGlyphs" fill="#202020" stroke="#202020" stroke-width="0.12">48:43;</text><text x="3.00" y="295.00" font-family="Liberation Mono" font-size="7.00" textLength="53.25" lengthAdjust="spacingAndGlyphs" fill="#202020" stroke="#202020" stroke-width="0.12">3293_at:165:83;</text><text x="349.00" y="213.50" font-family="Liberation Mono" font-size="6.80" textLength="121.11" lengthAdjust="spacingAndGlyphs" fill="#202020" stroke="#202020" stroke-width="0.12">probe:Yeast_2:1777286_s_at:52:65;</text><text x="353.50" y="226.80" font-family="Liberation Mono" font-size="6.80" textLength="128.45" lengthAdjust="spacingAndGlyphs" fill="#202020" stroke="#202020" stroke-width="0.12">probe:Yeast_2:1777286_s_at:271:481;</text><text x="373.70" y="240.10" font-family="Liberation Mono" font-size="6.80" textLength="124.78" lengthAdjust="spacingAndGlyphs" fill="#202020" stroke="#202020" stroke-width="0.12">probe:Yeast_2:1777286_s_at:341:93;</text><text x="438.60" y="253.50" font-family="Liberation Mono" font-size="6.80" textLength="102.76" lengthAdjust="spacingAndGlyphs" fill="#202020" stroke="#202020" stroke-width="0.12">probe:Yeast_2:1777286_s_at:5</text><text x="491.20" y="213.50" font-family="Liberation Mono" font-size="6.80" textLength="55.05" lengthAdjust="spacingAndGlyphs" fill="#202020" stroke="#202020" stroke-width="0.12">probe:Yeast_2:1</text><polygon points="5.65,306.60 6.50,308.33 8.41,308.60 7.03,309.95 7.35,311.85 5.65,310.95 3.95,311.85 4.27,309.95 2.89,308.60 4.80,308.33" fill="#111"/><rect x="10.20" y="306.60" width="5.20" height="5.20" fill="#5c120c"/><rect x="10.93" y="307.33" width="3.74" height="3.74" fill="#b22c24"/><rect x="11.66" y="308.78" width="2.29" height="0.94" fill="#f5b8b0"/><rect x="17.40" y="306.60" width="5.20" height="5.20" fill="#5c120c"/><rect x="18.13" y="307.33" width="3.74" height="3.74" fill="#b22c24"/><path d="M18.96 308.16L21.04 310.24M21.04 308.16L18.96 310.24" stroke="#eea0a0" stroke-width="0.78"/><rect x="24.60" y="306.60" width="5.20" height="5.20" fill="#74261e"/><rect x="25.33" y="307.33" width="3.74" height="3.74" fill="#c86a5e"/><rect x="26.16" y="308.16" width="2.08" height="2.08" fill="#eab0a4"/><rect x="31.80" y="306.60" width="5.20" height="5.20" fill="#5c120c"/><rect x="32.53" y="307.33" width="3.74" height="3.74" fill="#b22c24"/><path d="M33.10 310.50L35.70 307.90" stroke="#f8e0d8" stroke-width="1.04"/><rect x="39.00" y="306.60" width="5.20" height="5.20" fill="#f7c9a8"/><path d="M39.94 308.16V311.54M43.26 308.16V311.54M39.94 309.82H43.26" stroke="#a83020" stroke-width="0.88" fill="none"/><rect x="46.20" y="306.60" width="5.20" height="5.20" fill="#5c120c"/><rect x="46.93" y="307.33" width="3.74" height="3.74" fill="#b22c24"/><rect x="47.86" y="307.90" width="1.87" height="2.60" fill="#ee7a74"/><text x="54.60" y="311.76" font-family="Liberation Sans" font-weight="bold" font-size="8.00" textLength="15.00" lengthAdjust="spacingAndGlyphs" fill="#1a1208" stroke="#1a1208" stroke-width="0.32">SNV</text><path d="M12.50 314.4V317.6M48.75 314.4V317.6M52.00 314.4V317.6M122.50 314.4V317.6M123.00 314.4V317.6M142.00 314.4V317.6M161.25 314.4V317.6M163.75 314.4V317.6M166.25 314.4V317.6M170.00 314.4V317.6M172.50 314.4V317.6M188.75 314.4V317.6M195.00 314.4V317.6M202.50 314.4V317.6M225.00 314.4V317.6M227.00 314.4V317.6M229.00 314.4V317.6M235.00 314.4V317.6M253.25 314.4V317.6M257.00 314.4V317.6M260.00 314.4V317.6M261.25 314.4V317.6M278.75 314.4V317.6M293.75 314.4V317.6M310.00 314.4V317.6M327.50 314.4V317.6M329.25 314.4V317.6M363.75 314.4V317.6M365.75 314.4V317.6M367.50 314.4V317.6M380.75 314.4V317.6M398.00 314.4V317.6M399.50 314.4V317.6M401.25 314.4V317.6M402.50 314.4V317.6M408.75 314.4V317.6M412.50 314.4V317.6M416.25 314.4V317.6M418.75 314.4V317.6M427.50 314.4V317.6M433.10 314.4V317.6M440.00 314.4V317.6M454.20 314.4V317.6M459.00 314.4V317.6M462.00 314.4V317.6M464.60 314.4V317.6M466.00 314.4V317.6M472.40 314.4V317.6M483.60 314.4V317.6M494.40 314.4V317.6M514.40 314.4V317.6M164.50 318.2V320.8M167.50 318.2V320.8M228.00 318.2V320.8M229.00 318.2V320.8M262.00 318.2V320.8M330.00 318.2V320.8M363.75 318.2V320.8M367.50 318.2V320.8M400.00 318.2V320.8M420.00 318.2V320.8M473.60 318.2V320.8" stroke="#111" stroke-width="1.1"/><polygon points="6.00,343.45 6.85,345.18 8.76,345.45 7.38,346.80 7.70,348.70 6.00,347.80 4.30,348.70 4.62,346.80 3.24,345.45 5.15,345.18" fill="#111"/><rect x="10.20" y="343.35" width="5.40" height="5.40" fill="#5c120c"/><rect x="10.96" y="344.11" width="3.89" height="3.89" fill="#b22c24"/><rect x="11.71" y="345.62" width="2.38" height="0.97" fill="#f5b8b0"/><rect x="17.40" y="343.35" width="5.40" height="5.40" fill="#5c120c"/><rect x="18.16" y="344.11" width="3.89" height="3.89" fill="#b22c24"/><path d="M19.02 344.97L21.18 347.13M21.18 344.97L19.02 347.13" stroke="#eea0a0" stroke-width="0.81"/><rect x="24.60" y="343.35" width="5.40" height="5.40" fill="#74261e"/><rect x="25.36" y="344.11" width="3.89" height="3.89" fill="#c86a5e"/><rect x="26.22" y="344.97" width="2.16" height="2.16" fill="#eab0a4"/><rect x="31.80" y="343.35" width="5.40" height="5.40" fill="#5c120c"/><rect x="32.56" y="344.11" width="3.89" height="3.89" fill="#b22c24"/><path d="M33.15 347.40L35.85 344.70" stroke="#f8e0d8" stroke-width="1.08"/><rect x="39.00" y="343.35" width="5.40" height="5.40" fill="#f7c9a8"/><path d="M39.97 344.97V348.48M43.43 344.97V348.48M39.97 346.70H43.43" stroke="#a83020" stroke-width="0.92" fill="none"/><rect x="46.20" y="343.35" width="5.40" height="5.40" fill="#5c120c"/><rect x="46.96" y="344.11" width="3.89" height="3.89" fill="#b22c24"/><rect x="47.93" y="344.70" width="1.94" height="2.70" fill="#ee7a74"/><text x="54.50" y="348.55" font-family="Liberation Sans" font-weight="bold" font-size="7.80" textLength="43.50" lengthAdjust="spacingAndGlyphs" fill="#1a1208" stroke="#1a1208" stroke-width="0.32">Named gene</text><text x="59.10" y="355.80" font-family="Liberation Mono" font-size="6.20" textLength="25.00" lengthAdjust="spacingAndGlyphs" fill="#202020" stroke="#202020" stroke-width="0.12">YHL008C</text><text x="495.9" y="350.3" font-family="Liberation Sans" font-weight="bold" font-size="13.6" textLength="7.6" lengthAdjust="spacingAndGlyphs" fill="#111">B</text><polygon points="6.00,367.45 6.85,369.18 8.76,369.45 7.38,370.80 7.70,372.70 6.00,371.80 4.30,372.70 4.62,370.80 3.24,369.45 5.15,369.18" fill="#111"/><rect x="10.20" y="367.35" width="5.40" height="5.40" fill="#5c120c"/><rect x="10.96" y="368.11" width="3.89" height="3.89" fill="#b22c24"/><rect x="11.71" y="369.62" width="2.38" height="0.97" fill="#f5b8b0"/><rect x="17.40" y="367.35" width="5.40" height="5.40" fill="#5c120c"/><rect x="18.16" y="368.11" width="3.89" height="3.89" fill="#b22c24"/><path d="M19.02 368.97L21.18 371.13M21.18 368.97L19.02 371.13" stroke="#eea0a0" stroke-width="0.81"/><rect x="24.60" y="367.35" width="5.40" height="5.40" fill="#74261e"/><rect x="25.36" y="368.11" width="3.89" height="3.89" fill="#c86a5e"/><rect x="26.22" y="368.97" width="2.16" height="2.16" fill="#eab0a4"/><rect x="31.80" y="367.35" width="5.40" height="5.40" fill="#5c120c"/><rect x="32.56" y="368.11" width="3.89" height="3.89" fill="#b22c24"/><path d="M33.15 371.40L35.85 368.70" stroke="#f8e0d8" stroke-width="1.08"/><rect x="39.00" y="367.35" width="5.40" height="5.40" fill="#f7c9a8"/><path d="M39.97 368.97V372.48M43.43 368.97V372.48M39.97 370.70H43.43" stroke="#a83020" stroke-width="0.92" fill="none"/><rect x="46.20" y="367.35" width="5.40" height="5.40" fill="#5c120c"/><rect x="46.96" y="368.11" width="3.89" height="3.89" fill="#b22c24"/><rect x="47.93" y="368.70" width="1.94" height="2.70" fill="#ee7a74"/><text x="54.50" y="372.55" font-family="Liberation Sans" font-weight="bold" font-size="7.80" textLength="144.50" lengthAdjust="spacingAndGlyphs" fill="#1a1208" stroke="#1a1208" stroke-width="0.32">Chemostat Coverage from Gsnap (xyplot)</text><text x="287.50" y="385.61" font-family="Liberation Mono" font-size="6.60" textLength="10.50" lengthAdjust="spacingAndGlyphs" fill="#262626" stroke="#262626" stroke-width="0.12">226</text><text x="287.50" y="399.91" font-family="Liberation Mono" font-size="6.60" textLength="10.50" lengthAdjust="spacingAndGlyphs" fill="#262626" stroke="#262626" stroke-width="0.12">113</text><text x="287.50" y="414.21" font-family="Liberation Mono" font-size="6.60" textLength="3.50" lengthAdjust="spacingAndGlyphs" fill="#262626" stroke="#262626" stroke-width="0.12">0</text><text transform="translate(15.30 406.20) rotate(-90)" font-family="Liberation Sans" font-weight="bold" font-size="11.40" textLength="30.40" lengthAdjust="spacingAndGlyphs" fill="#111" stroke="#111" stroke-width="0.5">Gsnap</text><polygon points="6.00,417.40 6.85,419.13 8.76,419.40 7.38,420.75 7.70,422.65 6.00,421.75 4.30,422.65 4.62,420.75 3.24,419.40 5.15,419.13" fill="#111"/><rect x="10.20" y="417.30" width="5.40" height="5.40" fill="#5c120c"/><rect x="10.96" y="418.06" width="3.89" height="3.89" fill="#b22c24"/><rect x="11.71" y="419.57" width="2.38" height="0.97" fill="#f5b8b0"/><rect x="17.40" y="417.30" width="5.40" height="5.40" fill="#5c120c"/><rect x="18.16" y="418.06" width="3.89" height="3.89" fill="#b22c24"/><path d="M19.02 418.92L21.18 421.08M21.18 418.92L19.02 421.08" stroke="#eea0a0" stroke-width="0.81"/><rect x="24.60" y="417.30" width="5.40" height="5.40" fill="#74261e"/><rect x="25.36" y="418.06" width="3.89" height="3.89" fill="#c86a5e"/><rect x="26.22" y="418.92" width="2.16" height="2.16" fill="#eab0a4"/><rect x="31.80" y="417.30" width="5.40" height="5.40" fill="#5c120c"/><rect x="32.56" y="418.06" width="3.89" height="3.89" fill="#b22c24"/><path d="M33.15 421.35L35.85 418.65" stroke="#f8e0d8" stroke-width="1.08"/><rect x="39.00" y="417.30" width="5.40" height="5.40" fill="#f7c9a8"/><path d="M39.97 418.92V422.43M43.43 418.92V422.43M39.97 420.65H43.43" stroke="#a83020" stroke-width="0.92" fill="none"/><rect x="46.20" y="417.30" width="5.40" height="5.40" fill="#5c120c"/><rect x="46.96" y="418.06" width="3.89" height="3.89" fill="#b22c24"/><rect x="47.93" y="418.65" width="1.94" height="2.70" fill="#ee7a74"/><text x="54.50" y="422.50" font-family="Liberation Sans" font-weight="bold" font-size="7.80" textLength="148.00" lengthAdjust="spacingAndGlyphs" fill="#1a1208" stroke="#1a1208" stroke-width="0.32">Chemostat Coverage from Stampy (xyplot)</text><text x="287.50" y="436.21" font-family="Liberation Mono" font-size="6.60" textLength="10.50" lengthAdjust="spacingAndGlyphs" fill="#262626" stroke="#262626" stroke-width="0.12">253</text><text x="287.50" y="450.81" font-family="Liberation Mono" font-size="6.60" textLength="17.50" lengthAdjust="spacingAndGlyphs" fill="#262626" stroke="#262626" stroke-width="0.12">126.5</text><text x="287.50" y="464.71" font-family="Liberation Mono" font-size="6.60" textLength="3.50" lengthAdjust="spacingAndGlyphs" fill="#262626" stroke="#262626" stroke-width="0.12">0</text><text transform="translate(15.30 461.60) rotate(-90)" font-family="Liberation Sans" font-weight="bold" font-size="11.40" textLength="37.40" lengthAdjust="spacingAndGlyphs" fill="#111" stroke="#111" stroke-width="0.5">Stampy</text><polygon points="6.00,468.35 6.85,470.08 8.76,470.35 7.38,471.70 7.70,473.60 6.00,472.70 4.30,473.60 4.62,471.70 3.24,470.35 5.15,470.08" fill="#111"/><rect x="10.20" y="468.25" width="5.40" height="5.40" fill="#5c120c"/><rect x="10.96" y="469.01" width="3.89" height="3.89" fill="#b22c24"/><rect x="11.71" y="470.52" width="2.38" height="0.97" fill="#f5b8b0"/><rect x="17.40" y="468.25" width="5.40" height="5.40" fill="#5c120c"/><rect x="18.16" y="469.01" width="3.89" height="3.89" fill="#b22c24"/><path d="M19.02 469.87L21.18 472.03M21.18 469.87L19.02 472.03" stroke="#eea0a0" stroke-width="0.81"/><rect x="24.60" y="468.25" width="5.40" height="5.40" fill="#74261e"/><rect x="25.36" y="469.01" width="3.89" height="3.89" fill="#c86a5e"/><rect x="26.22" y="469.87" width="2.16" height="2.16" fill="#eab0a4"/><rect x="31.80" y="468.25" width="5.40" height="5.40" fill="#5c120c"/><rect x="32.56" y="469.01" width="3.89" height="3.89" fill="#b22c24"/><path d="M33.15 472.30L35.85 469.60" stroke="#f8e0d8" stroke-width="1.08"/><rect x="39.00" y="468.25" width="5.40" height="5.40" fill="#f7c9a8"/><path d="M39.97 469.87V473.38M43.43 469.87V473.38M39.97 471.60H43.43" stroke="#a83020" stroke-width="0.92" fill="none"/><rect x="46.20" y="468.25" width="5.40" height="5.40" fill="#5c120c"/><rect x="46.96" y="469.01" width="3.89" height="3.89" fill="#b22c24"/><rect x="47.93" y="469.60" width="1.94" height="2.70" fill="#ee7a74"/><text x="54.50" y="473.45" font-family="Liberation Sans" font-weight="bold" font-size="7.80" textLength="145.50" lengthAdjust="spacingAndGlyphs" fill="#1a1208" stroke="#1a1208" stroke-width="0.32">Chemostat Coverage from Tophat (xyplot)</text><text x="287.50" y="486.61" font-family="Liberation Mono" font-size="6.60" textLength="10.50" lengthAdjust="spacingAndGlyphs" fill="#262626" stroke="#262626" stroke-width="0.12">206</text><text x="287.50" y="501.61" font-family="Liberation Mono" font-size="6.60" textLength="10.50" lengthAdjust="spacingAndGlyphs" fill="#262626" stroke="#262626" stroke-width="0.12">103</text><text x="287.50" y="515.21" font-family="Liberation Mono" font-size="6.60" textLength="3.50" lengthAdjust="spacingAndGlyphs" fill="#262626" stroke="#262626" stroke-width="0.12">0</text><text transform="translate(15.40 512.00) rotate(-90)" font-family="Liberation Sans" font-weight="bold" font-size="11.40" textLength="33.60" lengthAdjust="spacingAndGlyphs" fill="#111" stroke="#111" stroke-width="0.5">Tophat</text><polygon points="6.00,519.55 6.85,521.28 8.76,521.55 7.38,522.90 7.70,524.80 6.00,523.90 4.30,524.80 4.62,522.90 3.24,521.55 5.15,521.28" fill="#111"/><rect x="10.20" y="519.45" width="5.40" height="5.40" fill="#5c120c"/><rect x="10.96" y="520.21" width="3.89" height="3.89" fill="#b22c24"/><rect x="11.71" y="521.72" width="2.38" height="0.97" fill="#f5b8b0"/><rect x="17.40" y="519.45" width="5.40" height="5.40" fill="#5c120c"/><rect x="18.16" y="520.21" width="3.89" height="3.89" fill="#b22c24"/><path d="M19.02 521.07L21.18 523.23M21.18 521.07L19.02 523.23" stroke="#eea0a0" stroke-width="0.81"/><rect x="24.60" y="519.45" width="5.40" height="5.40" fill="#74261e"/><rect x="25.36" y="520.21" width="3.89" height="3.89" fill="#c86a5e"/><rect x="26.22" y="521.07" width="2.16" height="2.16" fill="#eab0a4"/><rect x="31.80" y="519.45" width="5.40" height="5.40" fill="#5c120c"/><rect x="32.56" y="520.21" width="3.89" height="3.89" fill="#b22c24"/><path d="M33.15 523.50L35.85 520.80" stroke="#f8e0d8" stroke-width="1.08"/><rect x="39.00" y="519.45" width="5.40" height="5.40" fill="#f7c9a8"/><path d="M39.97 521.07V524.58M43.43 521.07V524.58M39.97 522.80H43.43" stroke="#a83020" stroke-width="0.92" fill="none"/><rect x="46.20" y="519.45" width="5.40" height="5.40" fill="#5c120c"/><rect x="46.96" y="520.21" width="3.89" height="3.89" fill="#b22c24"/><rect x="47.93" y="520.80" width="1.94" height="2.70" fill="#ee7a74"/><text x="55.00" y="524.65" font-family="Liberation Sans" font-weight="bold" font-size="7.80" textLength="16.30" lengthAdjust="spacingAndGlyphs" fill="#1a1208" stroke="#1a1208" stroke-width="0.32">indel</text><clipPath id="indelclip"><rect x="3.9" y="515" width="511.6" height="92"/></clipPath><g clip-path="url(#indelclip)"><text x="4.80" y="532.70" font-family="Liberation Mono" font-size="6.80" textLength="39.93" lengthAdjust="spacingAndGlyphs" fill="#202020" stroke="#202020" stroke-width="0.12">T/TTGGCATAA</text><text x="48.00" y="532.70" font-family="Liberation Mono" font-size="6.80" textLength="36.30" lengthAdjust="spacingAndGlyphs" fill="#202020" stroke="#202020" stroke-width="0.12">01355:T/TT</text><rect x="48.30" y="535.10" width="1.2" height="1.4" fill="#111"/><text x="181.25" y="532.70" font-family="Liberation Mono" font-size="6.80" textLength="54.45" lengthAdjust="spacingAndGlyphs" fill="#202020" stroke="#202020" stroke-width="0.12">01356:TCCTCCT/T</text><rect x="181.55" y="535.10" width="1.2" height="1.4" fill="#111"/><text x="185.50" y="544.20" font-family="Liberation Mono" font-size="6.80" textLength="87.12" lengthAdjust="spacingAndGlyphs" fill="#202020" stroke="#202020" stroke-width="0.12">01357:T/TATCCCTCACAAATGT</text><rect x="185.80" y="546.60" width="1.2" height="1.4" fill="#111"/><text x="185.50" y="555.70" font-family="Liberation Mono" font-size="6.80" textLength="65.34" lengthAdjust="spacingAndGlyphs" fill="#202020" stroke="#202020" stroke-width="0.12">01358:CACGTACGCG/C</text><rect x="185.80" y="558.10" width="1.2" height="1.4" fill="#111"/><text x="287.00" y="532.70" font-family="Liberation Mono" font-size="6.80" textLength="36.30" lengthAdjust="spacingAndGlyphs" fill="#202020" stroke="#202020" stroke-width="0.12">01359:GA/G</text><rect x="287.30" y="535.10" width="1.2" height="1.4" fill="#111"/><text x="288.75" y="544.20" font-family="Liberation Mono" font-size="6.80" textLength="65.34" lengthAdjust="spacingAndGlyphs" fill="#202020" stroke="#202020" stroke-width="0.12">01360:C/CGACGTCTCC</text><rect x="289.05" y="546.60" width="1.2" height="1.4" fill="#111"/><text x="295.00" y="555.70" font-family="Liberation Mono" font-size="6.80" textLength="130.68" lengthAdjust="spacingAndGlyphs" fill="#202020" stroke="#202020" stroke-width="0.12">01361:C/CTAACTTCGTCTTTTATATCTTCCTCAC</text><rect x="295.30" y="558.10" width="1.2" height="1.4" fill="#111"/><text x="357.00" y="532.70" font-family="Liberation Mono" font-size="6.80" textLength="39.93" lengthAdjust="spacingAndGlyphs" fill="#202020" stroke="#202020" stroke-width="0.12">01362:CTC/C</text><rect x="357.30" y="535.10" width="1.2" height="1.4" fill="#111"/><text x="357.00" y="544.20" font-family="Liberation Mono" font-size="6.80" textLength="39.93" lengthAdjust="spacingAndGlyphs" fill="#202020" stroke="#202020" stroke-width="0.12">01363:G/GCA</text><rect x="357.30" y="546.60" width="1.2" height="1.4" fill="#111"/><text x="363.10" y="567.10" font-family="Liberation Mono" font-size="6.80" textLength="54.45" lengthAdjust="spacingAndGlyphs" fill="#202020" stroke="#202020" stroke-width="0.12">01364:ATAAAGT/A</text><rect x="363.40" y="569.50" width="1.2" height="1.4" fill="#111"/><text x="366.00" y="578.60" font-family="Liberation Mono" font-size="6.80" textLength="54.45" lengthAdjust="spacingAndGlyphs" fill="#202020" stroke="#202020" stroke-width="0.12">01365:A/AAAGTTA</text><rect x="366.30" y="581.00" width="1.2" height="1.4" fill="#111"/><text x="369.80" y="590.20" font-family="Liberation Mono" font-size="6.80" textLength="47.19" lengthAdjust="spacingAndGlyphs" fill="#202020" stroke="#202020" stroke-width="0.12">01366:A/ATGAT</text><rect x="370.10" y="592.60" width="1.2" height="1.4" fill="#111"/><text x="370.80" y="601.70" font-family="Liberation Mono" font-size="6.80" textLength="47.19" lengthAdjust="spacingAndGlyphs" fill="#202020" stroke="#202020" stroke-width="0.12">01367:TAAAC/T</text><rect x="371.10" y="604.10" width="1.2" height="1.4" fill="#111"/><text x="401.25" y="532.70" font-family="Liberation Mono" font-size="6.80" textLength="68.97" lengthAdjust="spacingAndGlyphs" fill="#202020" stroke="#202020" stroke-width="0.12">01368:CCGTGAGCCTA/C</text><rect x="401.55" y="535.10" width="1.2" height="1.4" fill="#111"/><text x="404.50" y="544.20" font-family="Liberation Mono" font-size="6.80" textLength="68.97" lengthAdjust="spacingAndGlyphs" fill="#202020" stroke="#202020" stroke-width="0.12">01369:T/TTGAGCCCTTC</text><rect x="404.80" y="546.60" width="1.2" height="1.4" fill="#111"/><text x="468.50" y="555.70" font-family="Liberation Mono" font-size="6.80" textLength="43.56" lengthAdjust="spacingAndGlyphs" fill="#202020" stroke="#202020" stroke-width="0.12">01370:G/GGTC</text><rect x="468.80" y="558.10" width="1.2" height="1.4" fill="#111"/><text x="469.00" y="567.10" font-family="Liberation Mono" font-size="6.80" textLength="43.56" lengthAdjust="spacingAndGlyphs" fill="#202020" stroke="#202020" stroke-width="0.12">01371:TTCG/T</text><rect x="469.30" y="569.50" width="1.2" height="1.4" fill="#111"/><text x="510.40" y="532.70" font-family="Liberation Mono" font-size="6.80" textLength="3.63" lengthAdjust="spacingAndGlyphs" fill="#202020" stroke="#202020" stroke-width="0.12">0</text><rect x="510.70" y="535.10" width="1.2" height="1.4" fill="#111"/></g><polygon points="5.40,616.35 6.25,618.08 8.16,618.35 6.78,619.70 7.10,621.60 5.40,620.70 3.70,621.60 4.02,619.70 2.64,618.35 4.55,618.08" fill="#111"/><rect x="10.00" y="616.65" width="4.60" height="4.60" fill="#5c120c"/><rect x="10.64" y="617.29" width="3.31" height="3.31" fill="#b22c24"/><rect x="11.29" y="618.58" width="2.02" height="0.83" fill="#f5b8b0"/><rect x="16.90" y="616.65" width="4.60" height="4.60" fill="#5c120c"/><rect x="17.54" y="617.29" width="3.31" height="3.31" fill="#b22c24"/><path d="M18.28 618.03L20.12 619.87M20.12 618.03L18.28 619.87" stroke="#eea0a0" stroke-width="0.69"/><rect x="23.80" y="616.65" width="4.60" height="4.60" fill="#74261e"/><rect x="24.44" y="617.29" width="3.31" height="3.31" fill="#c86a5e"/><rect x="25.18" y="618.03" width="1.84" height="1.84" fill="#eab0a4"/><rect x="30.70" y="616.65" width="4.60" height="4.60" fill="#5c120c"/><rect x="31.34" y="617.29" width="3.31" height="3.31" fill="#b22c24"/><path d="M31.85 620.10L34.15 617.80" stroke="#f8e0d8" stroke-width="0.92"/><rect x="37.60" y="616.65" width="4.60" height="4.60" fill="#f7c9a8"/><path d="M38.43 618.03V621.02M41.37 618.03V621.02M38.43 619.50H41.37" stroke="#a83020" stroke-width="0.78" fill="none"/><rect x="44.50" y="616.65" width="4.60" height="4.60" fill="#5c120c"/><rect x="45.14" y="617.29" width="3.31" height="3.31" fill="#b22c24"/><rect x="45.97" y="617.80" width="1.66" height="2.30" fill="#ee7a74"/><text x="51.50" y="621.29" font-family="Liberation Sans" font-weight="bold" font-size="7.30" textLength="39.80" lengthAdjust="spacingAndGlyphs" fill="#1a1208" stroke="#1a1208" stroke-width="0.32">Named gene</text><text x="76.90" y="629.70" font-family="Liberation Mono" font-size="5.90" textLength="54.60" lengthAdjust="spacingAndGlyphs" fill="#202020" stroke="#202020" stroke-width="0.12">YLR344W (RPL26A)</text><text x="34.80" y="637.10" font-family="Liberation Mono" font-size="5.90" textLength="42.30" lengthAdjust="spacingAndGlyphs" fill="#202020" stroke="#202020" stroke-width="0.12">YLR344W_mRNA</text><text x="495.6" y="630.3" font-family="Liberation Sans" font-weight="bold" font-size="14.2" textLength="8.0" lengthAdjust="spacingAndGlyphs" fill="#111">C</text><polygon points="5.40,640.25 6.25,641.98 8.16,642.25 6.78,643.60 7.10,645.50 5.40,644.60 3.70,645.50 4.02,643.60 2.64,642.25 4.55,641.98" fill="#111"/><rect x="10.00" y="640.55" width="4.60" height="4.60" fill="#5c120c"/><rect x="10.64" y="641.19" width="3.31" height="3.31" fill="#b22c24"/><rect x="11.29" y="642.48" width="2.02" height="0.83" fill="#f5b8b0"/><rect x="16.90" y="640.55" width="4.60" height="4.60" fill="#5c120c"/><rect x="17.54" y="641.19" width="3.31" height="3.31" fill="#b22c24"/><path d="M18.28 641.93L20.12 643.77M20.12 641.93L18.28 643.77" stroke="#eea0a0" stroke-width="0.69"/><rect x="23.80" y="640.55" width="4.60" height="4.60" fill="#74261e"/><rect x="24.44" y="641.19" width="3.31" height="3.31" fill="#c86a5e"/><rect x="25.18" y="641.93" width="1.84" height="1.84" fill="#eab0a4"/><rect x="30.70" y="640.55" width="4.60" height="4.60" fill="#5c120c"/><rect x="31.34" y="641.19" width="3.31" height="3.31" fill="#b22c24"/><path d="M31.85 644.00L34.15 641.70" stroke="#f8e0d8" stroke-width="0.92"/><rect x="37.60" y="640.55" width="4.60" height="4.60" fill="#f7c9a8"/><path d="M38.43 641.93V644.92M41.37 641.93V644.92M38.43 643.40H41.37" stroke="#a83020" stroke-width="0.78" fill="none"/><rect x="44.50" y="640.55" width="4.60" height="4.60" fill="#5c120c"/><rect x="45.14" y="641.19" width="3.31" height="3.31" fill="#b22c24"/><rect x="45.97" y="641.70" width="1.66" height="2.30" fill="#ee7a74"/><text x="51.50" y="645.19" font-family="Liberation Sans" font-weight="bold" font-size="7.30" textLength="134.80" lengthAdjust="spacingAndGlyphs" fill="#1a1208" stroke="#1a1208" stroke-width="0.32">Chemostat Coverage from Gsnap (xyplot)</text><text x="271.50" y="657.81" font-family="Liberation Mono" font-size="6.60" textLength="13.88" lengthAdjust="spacingAndGlyphs" fill="#262626" stroke="#262626" stroke-width="0.12">2377</text><text x="271.50" y="672.21" font-family="Liberation Mono" font-size="6.60" textLength="20.82" lengthAdjust="spacingAndGlyphs" fill="#262626" stroke="#262626" stroke-width="0.12">1188.5</text><text x="271.50" y="686.11" font-family="Liberation Mono" font-size="6.60" textLength="3.47" lengthAdjust="spacingAndGlyphs" fill="#262626" stroke="#262626" stroke-width="0.12">0</text><text transform="translate(15.30 680.30) rotate(-90)" font-family="Liberation Sans" font-weight="bold" font-size="11.20" textLength="31.50" lengthAdjust="spacingAndGlyphs" fill="#111" stroke="#111" stroke-width="0.5">Gsnap</text><polygon points="5.40,689.15 6.25,690.88 8.16,691.15 6.78,692.50 7.10,694.40 5.40,693.50 3.70,694.40 4.02,692.50 2.64,691.15 4.55,690.88" fill="#111"/><rect x="10.00" y="689.45" width="4.60" height="4.60" fill="#5c120c"/><rect x="10.64" y="690.09" width="3.31" height="3.31" fill="#b22c24"/><rect x="11.29" y="691.38" width="2.02" height="0.83" fill="#f5b8b0"/><rect x="16.90" y="689.45" width="4.60" height="4.60" fill="#5c120c"/><rect x="17.54" y="690.09" width="3.31" height="3.31" fill="#b22c24"/><path d="M18.28 690.83L20.12 692.67M20.12 690.83L18.28 692.67" stroke="#eea0a0" stroke-width="0.69"/><rect x="23.80" y="689.45" width="4.60" height="4.60" fill="#74261e"/><rect x="24.44" y="690.09" width="3.31" height="3.31" fill="#c86a5e"/><rect x="25.18" y="690.83" width="1.84" height="1.84" fill="#eab0a4"/><rect x="30.70" y="689.45" width="4.60" height="4.60" fill="#5c120c"/><rect x="31.34" y="690.09" width="3.31" height="3.31" fill="#b22c24"/><path d="M31.85 692.90L34.15 690.60" stroke="#f8e0d8" stroke-width="0.92"/><rect x="37.60" y="689.45" width="4.60" height="4.60" fill="#f7c9a8"/><path d="M38.43 690.83V693.82M41.37 690.83V693.82M38.43 692.30H41.37" stroke="#a83020" stroke-width="0.78" fill="none"/><rect x="44.50" y="689.45" width="4.60" height="4.60" fill="#5c120c"/><rect x="45.14" y="690.09" width="3.31" height="3.31" fill="#b22c24"/><rect x="45.97" y="690.60" width="1.66" height="2.30" fill="#ee7a74"/><text x="51.50" y="694.09" font-family="Liberation Sans" font-weight="bold" font-size="7.30" textLength="138.30" lengthAdjust="spacingAndGlyphs" fill="#1a1208" stroke="#1a1208" stroke-width="0.32">Chemostat Coverage from Stampy (xyplot)</text><text x="271.50" y="706.11" font-family="Liberation Mono" font-size="6.60" textLength="13.88" lengthAdjust="spacingAndGlyphs" fill="#262626" stroke="#262626" stroke-width="0.12">2058</text><text x="271.50" y="720.71" font-family="Liberation Mono" font-size="6.60" textLength="13.88" lengthAdjust="spacingAndGlyphs" fill="#262626" stroke="#262626" stroke-width="0.12">1029</text><text x="271.50" y="734.21" font-family="Liberation Mono" font-size="6.60" textLength="3.47" lengthAdjust="spacingAndGlyphs" fill="#262626" stroke="#262626" stroke-width="0.12">0</text><text transform="translate(15.30 733.20) rotate(-90)" font-family="Liberation Sans" font-weight="bold" font-size="11.20" textLength="37.70" lengthAdjust="spacingAndGlyphs" fill="#111" stroke="#111" stroke-width="0.5">Stampy</text><polygon points="5.40,736.35 6.25,738.08 8.16,738.35 6.78,739.70 7.10,741.60 5.40,740.70 3.70,741.60 4.02,739.70 2.64,738.35 4.55,738.08" fill="#111"/><rect x="10.00" y="736.65" width="4.60" height="4.60" fill="#5c120c"/><rect x="10.64" y="737.29" width="3.31" height="3.31" fill="#b22c24"/><rect x="11.29" y="738.58" width="2.02" height="0.83" fill="#f5b8b0"/><rect x="16.90" y="736.65" width="4.60" height="4.60" fill="#5c120c"/><rect x="17.54" y="737.29" width="3.31" height="3.31" fill="#b22c24"/><path d="M18.28 738.03L20.12 739.87M20.12 738.03L18.28 739.87" stroke="#eea0a0" stroke-width="0.69"/><rect x="23.80" y="736.65" width="4.60" height="4.60" fill="#74261e"/><rect x="24.44" y="737.29" width="3.31" height="3.31" fill="#c86a5e"/><rect x="25.18" y="738.03" width="1.84" height="1.84" fill="#eab0a4"/><rect x="30.70" y="736.65" width="4.60" height="4.60" fill="#5c120c"/><rect x="31.34" y="737.29" width="3.31" height="3.31" fill="#b22c24"/><path d="M31.85 740.10L34.15 737.80" stroke="#f8e0d8" stroke-width="0.92"/><rect x="37.60" y="736.65" width="4.60" height="4.60" fill="#f7c9a8"/><path d="M38.43 738.03V741.02M41.37 738.03V741.02M38.43 739.50H41.37" stroke="#a83020" stroke-width="0.78" fill="none"/><rect x="44.50" y="736.65" width="4.60" height="4.60" fill="#5c120c"/><rect x="45.14" y="737.29" width="3.31" height="3.31" fill="#b22c24"/><rect x="45.97" y="737.80" width="1.66" height="2.30" fill="#ee7a74"/><text x="51.50" y="741.29" font-family="Liberation Sans" font-weight="bold" font-size="7.30" textLength="136.30" lengthAdjust="spacingAndGlyphs" fill="#1a1208" stroke="#1a1208" stroke-width="0.32">Chemostat Coverage from Tophat (xyplot)</text><text x="271.50" y="754.11" font-family="Liberation Mono" font-size="6.60" textLength="13.88" lengthAdjust="spacingAndGlyphs" fill="#262626" stroke="#262626" stroke-width="0.12">2164</text><text x="271.50" y="768.81" font-family="Liberation Mono" font-size="6.60" textLength="13.88" lengthAdjust="spacingAndGlyphs" fill="#262626" stroke="#262626" stroke-width="0.12">1082</text><text x="271.50" y="782.21" font-family="Liberation Mono" font-size="6.60" textLength="3.47" lengthAdjust="spacingAndGlyphs" fill="#262626" stroke="#262626" stroke-width="0.12">0</text><text transform="translate(15.20 784.10) rotate(-90)" font-family="Liberation Sans" font-weight="bold" font-size="11.20" textLength="36.30" lengthAdjust="spacingAndGlyphs" fill="#111" stroke="#111" stroke-width="0.5">Tophat</text><g filter="url(#soft)"><rect x="46.2" y="652.0" width="48.4" height="129.3" fill="none" stroke="#3db34a" stroke-width="3.0"/></g></svg></body></html>
